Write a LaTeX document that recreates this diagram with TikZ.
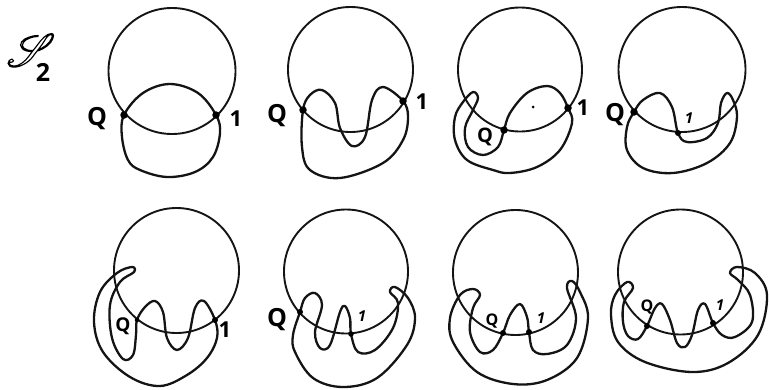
\documentclass[tikz,border=0pt]{standalone}
\usepackage{mathrsfs}
\usepackage{fontspec}
\setmainfont{Open Sans}
\tikzset{
  ring/.style={line width=1.9pt,draw=black!92},
  strand/.style={line width=2.3pt,draw=black!92,line join=round},
  knot/.style={circle,fill=black,inner sep=0pt,minimum size=7.5pt},
  bigq/.style={font=\fontsize{25}{25}\selectfont\bfseries,inner sep=0pt},
  bigl/.style={font=\fontsize{22}{22}\selectfont\bfseries,inner sep=0pt},
  smalll/.style={font=\fontsize{16}{16}\selectfont\bfseries,inner sep=0pt},
  tinyl/.style={font=\fontsize{15}{15}\selectfont\itshape\bfseries,inner sep=0pt}
}
\begin{document}
\begin{tikzpicture}[x=1pt,y=-1pt]
\useasboundingbox (0,0) rectangle (769,389);
\node[inner sep=0pt,scale=4.6] (title) at (31,50) {\special{pdf:code 1 Tr 0.25 w}$\mathscr{S}$\special{pdf:code 0 Tr}};
\node[inner sep=0pt,font=\fontsize{25}{25}\selectfont\bfseries] (titleidx) at (43,72) {2};
% panel 1
\draw[ring] (172,71) ellipse [x radius=63.5,y radius=63];
\draw[strand] plot[smooth cycle,tension=0.6] coordinates {(124,115) (143,93) (170,84) (198,93) (216,115) (220,133) (213,157) (195,172) (167,177) (140,170) (128,160) (122,137)};
\node[knot] (a1) at (124,115) {}; \node[knot] (b1) at (216,115) {};
\node[bigq] (q1) at (97,119) {Q}; \node[bigl] (o1) at (236,119) {1};
% panel 2
\draw[ring] (350.5,69.5) circle [radius=62.5];
\draw[strand] plot[smooth cycle,tension=0.6] coordinates {(303,110) (310,95) (322,90) (335,103) (340,128) (352,146) (365,137) (372,100) (383,87) (403,101) (408,117) (403,140) (383,163) (340,178) (310,170) (302,147)};
\node[knot] (a2) at (303,110) {}; \node[knot] (b2) at (403,101) {};
\node[bigq] (q2) at (277,116) {Q}; \node[bigl] (o2) at (422,102) {1};
% panel 3
\draw[ring] (520,69.5) circle [radius=62];
\draw[strand] plot[smooth cycle,tension=0.6] coordinates {(504,130) (510,113) (527,93) (547,86) (560,93) (568,108) (572,123) (560,150) (537,167) (510,173) (493,170) (467,160) (455,140) (455,117) (463,102) (473,92) (478,98) (473,110) (465,128) (468,147) (483,155) (498,147)};
\node[knot] (a3) at (504,130) {}; \node[knot] (b3) at (568,108) {};
\node[smalll,font=\fontsize{20}{20}\selectfont\bfseries] (q3) at (485,137) {Q}; \node[bigl] (o3) at (583,108) {1};
\fill (533,107) circle [radius=1.5pt];
% panel 4
\draw[ring] (682,69.5) ellipse [x radius=63.5,y radius=62.5];
\draw[strand] plot[smooth cycle,tension=0.6] coordinates {(634,112) (643,100) (660,93) (672,107) (678,133) (687,142) (707,138) (718,123) (721,103) (727,93) (733,100) (737,117) (730,143) (707,163) (673,173) (643,168) (627,150) (627,127)};
\node[knot] (a4) at (634,112) {}; \node[knot,minimum size=6pt] (b4) at (678,133) {};
\node[bigq] (q4) at (615,115) {Q}; \node[tinyl] (o4) at (689,118) {1};
% panel 5
\draw[ring] (176.5,270.5) circle [radius=62.5];
\draw[strand] plot[smooth cycle,tension=0.6] coordinates {(137,320) (145,307) (155,301) (163,312) (167,338) (177,350) (188,338) (195,308) (204,301) (215,320) (217,338) (207,358) (187,375) (160,386) (130,377) (103,352) (94,322) (100,292) (117,273) (132,267) (134,272) (120,282) (110,305) (112,338) (123,359) (133,355) (136,335)};
\node[knot,minimum size=4.5pt] (a5) at (137,320) {}; \node[knot,minimum size=6pt] (b5) at (215,320) {};
\node[smalll,font=\fontsize{19}{19}\selectfont\bfseries] (q5) at (123,326) {Q}; \node[bigl] (o5) at (225,330) {1};
% panel 6
\draw[ring] (346,271.5) circle [radius=62];
\draw[strand] plot[smooth cycle,tension=0.6] coordinates {(300,312) (305,298) (315,293) (322,305) (315,332) (320,348) (330,345) (340,312) (345,306) (350,318) (351,334) (358,352) (375,350) (393,328) (398,303) (390,292) (395,287) (408,298) (415,318) (407,345) (377,378) (343,387) (313,378) (295,352) (293,335)};
\node[knot,minimum size=6pt] (a6) at (300,312) {}; \node[knot,minimum size=5.5pt] (b6) at (351,334) {};
\node[bigq] (q6) at (277,320) {Q}; \node[tinyl] (o6) at (362,316) {1};
% panel 7
\draw[ring] (515.5,272.5) circle [radius=62.5];
\draw[strand] plot[smooth cycle,tension=0.6] coordinates {(503,333) (510,315) (520,304) (527,317) (529,332) (533,350) (547,354) (567,345) (576,318) (567,288) (572,281) (580,292) (588,318) (577,358) (547,380) (513,384) (477,372) (453,342) (450,318) (460,295) (473,289) (480,295) (473,308) (470,332) (480,352) (493,350)};
\node[knot,minimum size=6pt] (a7) at (503,333) {}; \node[knot,minimum size=6pt] (b7) at (529,332) {};
\node[smalll] (q7) at (492,321) {Q}; \node[tinyl] (o7) at (541,318) {1};
% panel 8
\draw[ring] (680.5,272) circle [radius=62.5];
\draw[strand] plot[smooth cycle,tension=0.6] coordinates {(647,326) (655,308) (662,304) (670,320) (677,343) (685,347) (692,335) (698,310) (705,304) (713,323) (722,335) (735,337) (752,322) (750,295) (738,280) (730,273) (737,267) (755,273) (767,295) (758,335) (728,363) (692,372) (645,362) (618,342) (611,315) (615,295) (627,282) (633,288) (624,302) (623,322) (628,336) (638,339)};
\node[knot,minimum size=6pt] (a8) at (647,326) {}; \node[knot,minimum size=6pt] (b8) at (713,323) {};
\node[smalll] (q8) at (647,307) {Q}; \node[tinyl] (o8) at (720,305) {1};
\end{tikzpicture}
\end{document}
